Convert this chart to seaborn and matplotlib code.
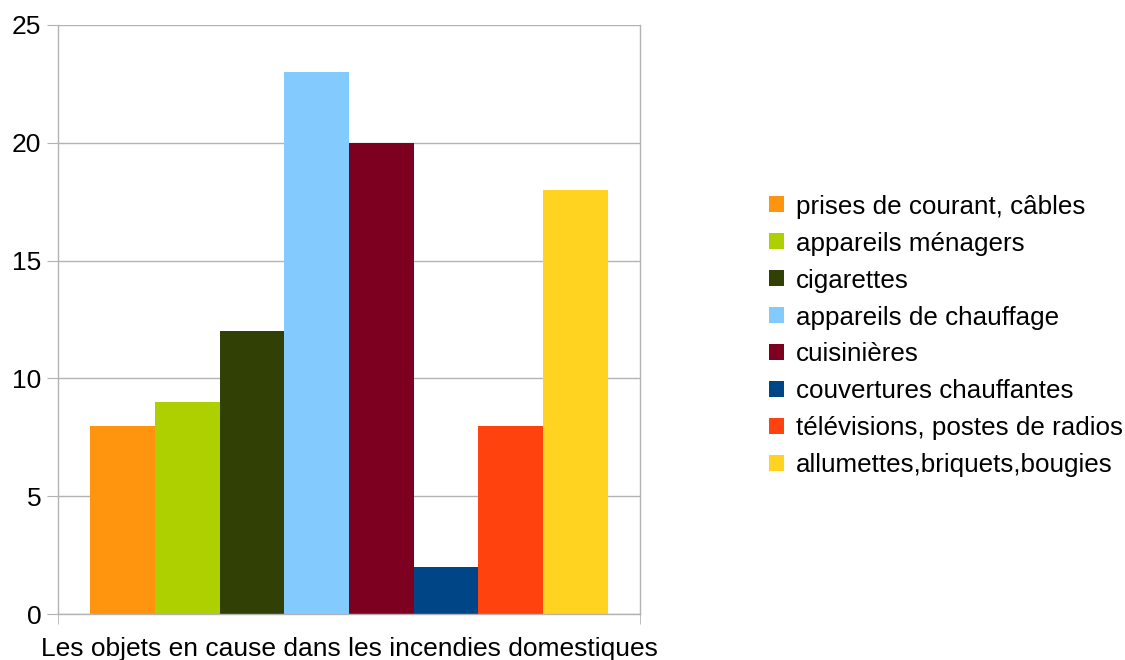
import matplotlib
matplotlib.use('Agg')
import matplotlib.pyplot as plt
import seaborn as sns
import pandas as pd

# === DATA ===
category = ['Les objets en cause dans les incendies domestiques']
objects = [
    'prises de courant, câbles',
    'appareils ménagers',
    'cigarettes',
    'appareils de chauffage',
    'cuisinières',
    'couvertures chauffantes',
    'télévisions, postes de radios',
    'allumettes,briquets,bougies',
]
counts = [8, 9, 12, 23, 20, 2, 8, 18]
colors = ['#ff950e', '#aecf00', '#314004', '#83caff',
          '#7e0021', '#004586', '#ff420e', '#ffd320']
y_ticks = [0, 5, 10, 15, 20, 25]

df = pd.DataFrame({
    'cat': category * len(objects),
    'obj': objects,
    'n': counts,
})

sns.set_style('white')
plt.rcParams['font.family'] = ['Liberation Sans', 'DejaVu Sans']
plt.rcParams['text.color'] = 'black'

fig = plt.figure(figsize=(11.25, 6.6), dpi=100)
ax = fig.add_axes([58 / 1125, 46 / 660, 582 / 1125, 589 / 660])

sns.barplot(data=df, x='cat', y='n', hue='obj', hue_order=objects,
            palette=colors, saturation=1, width=0.89, gap=0,
            linewidth=0, ax=ax, legend=True)

grid_col = '#b3b3b3'
fs = 19
ax.set_ylim(0, 25)
ax.set_xlim(-0.5, 0.5)
ax.set_yticks(y_ticks)
ax.yaxis.grid(True, color=grid_col, linewidth=1)
ax.set_axisbelow(True)
for s in ax.spines.values():
    s.set_color(grid_col)
    s.set_linewidth(1)
ax.spines['top'].set_visible(False)

ax.tick_params(axis='y', length=8, color=grid_col, labelsize=fs,
               pad=4, left=True, labelcolor='black')
ax.tick_params(axis='x', which='major', length=0, labelsize=fs, pad=16.5,
               labelcolor='black')
ax.set_xticks([-0.5, 0.5], minor=True)
ax.tick_params(axis='x', which='minor', length=7.5, color=grid_col,
               bottom=True)
ax.set_xlabel('')
ax.set_ylabel('')

handles, labels = ax.get_legend_handles_labels()
ax.get_legend().remove()
leg = fig.legend(handles, labels, loc='center left',
                 bbox_to_anchor=(769 / 1125, 1 - 336 / 660), frameon=False,
                 fontsize=18.7, handlelength=0.58, handleheight=0.58,
                 handletextpad=0.45, labelspacing=0.5, borderaxespad=0,
                 borderpad=0)
for t in leg.get_texts():
    t.set_color('black')

fig.savefig('out.png', dpi=100)
